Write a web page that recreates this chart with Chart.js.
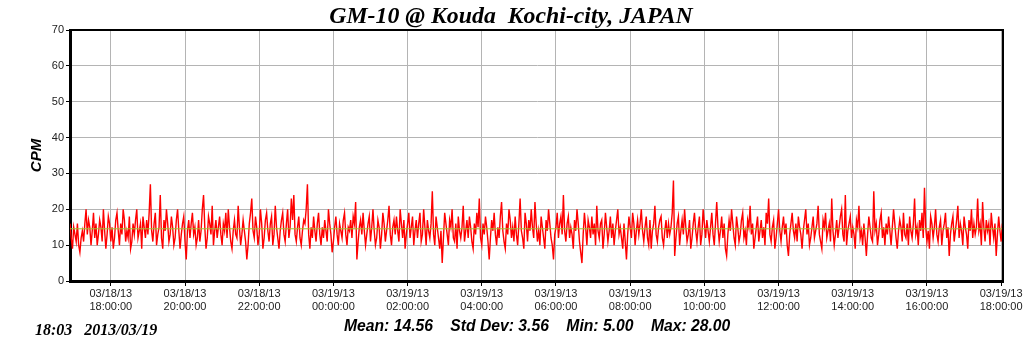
<!DOCTYPE html>
<html>
<head>
<meta charset="utf-8">
<script src="https://cdn.jsdelivr.net/npm/chart.js@4/dist/chart.umd.min.js"></script>
<style>
  html, body { margin: 0; padding: 0; background: #fff; }
  #wrap { position: relative; width: 1024px; height: 351px; }
  #title {
    position: absolute; left: 0; top: 2px; width: 1022px; text-align: center;
    white-space: pre; line-height: 28px;
    font: italic bold 23.8px "Liberation Serif", "Times New Roman", serif; color: #000;
  }
  #footLeft {
    position: absolute; left: 35px; top: 321px; white-space: pre;
    font: italic bold 16px "Liberation Serif", "Times New Roman", serif; color: #000;
  }
  #footStats {
    position: absolute; left: 344px; top: 317px; white-space: pre;
    font: italic bold 15.7px "Liberation Sans", Arial, sans-serif; color: #000;
  }
</style>
</head>
<body>
<div id="wrap">
  <canvas id="chart" width="1024" height="351"></canvas>
  <div id="title"></div>
  <div id="footLeft"></div>
  <div id="footStats"></div>
</div>
<script>
// time axis in minutes from 03/18/13 00:00
var startMinute = 1014;   // 03/18 16:54
var endMinute = 2523;     // 03/19 18:03
var stepMinutes = 2;

var tickMinutes = [1080, 1200, 1320, 1440, 1560, 1680, 1800, 1920, 2040, 2160, 2280, 2400, 2520];
var tickDates = ['03/18/13', '03/18/13', '03/18/13', '03/19/13', '03/19/13', '03/19/13', '03/19/13',
                 '03/19/13', '03/19/13', '03/19/13', '03/19/13', '03/19/13', '03/19/13'];
var tickTimes = ['18:00:00', '20:00:00', '22:00:00', '00:00:00', '02:00:00', '04:00:00', '06:00:00',
                 '08:00:00', '10:00:00', '12:00:00', '14:00:00', '16:00:00', '18:00:00'];

var cpm = [
  16,12,9,15,13,11,16,10,8,12,14,11,16,20,13,17,15,10,14,19,
  12,16,10,13,17,15,11,20,14,9,13,18,16,11,15,9,12,17,19,14,
  10,16,13,20,17,11,14,12,18,9,11,16,13,17,20,12,14,16,9,18,
  15,12,17,13,19,27,14,11,16,19,10,13,15,24,12,9,17,14,20,16,
  11,13,18,15,10,12,17,20,14,9,13,16,18,11,6,14,17,12,16,19,
  13,15,10,12,17,11,14,20,24,15,9,12,18,16,13,21,10,14,17,12,
  15,18,13,10,16,14,19,12,20,15,11,9,14,17,13,12,21,15,10,13,
  17,14,11,6,10,16,19,23,14,12,18,15,10,13,20,16,9,12,17,19,
  14,11,16,18,10,13,21,15,12,9,14,17,19,13,11,16,20,12,15,23,
  17,24,13,11,15,18,12,10,14,17,16,20,27,13,9,15,12,18,14,11,
  16,19,13,10,15,12,17,14,11,20,16,13,8,11,15,18,13,10,16,14,
  12,17,19,13,10,15,14,17,12,18,16,22,6,11,15,17,13,19,14,10,
  13,16,18,11,15,20,14,10,12,17,15,9,13,19,16,11,14,17,21,13,
  10,15,17,13,18,14,11,20,16,12,17,9,13,16,19,12,15,18,10,14,
  17,12,16,19,11,13,20,15,10,17,14,12,16,25,13,10,18,15,12,9,
  14,5,12,19,16,13,10,17,15,20,12,11,16,9,18,14,12,15,21,11,
  14,17,12,18,15,11,9,16,13,19,15,23,12,10,16,13,18,15,11,6,
  12,17,14,19,13,10,15,12,18,22,14,11,9,16,13,20,17,12,15,11,
  18,13,10,16,23,14,12,9,19,16,11,17,14,20,15,12,22,16,11,14,
  10,18,15,12,9,17,14,20,16,12,10,6,13,15,19,12,16,18,13,24,
  14,11,16,18,12,15,13,9,17,14,20,16,11,8,5,13,19,15,10,17,
  15,12,18,13,16,10,21,14,12,16,17,9,13,19,15,11,14,18,12,16,
  10,14,17,20,13,15,12,9,16,11,6,13,18,15,12,19,16,10,14,17,
  13,16,20,14,11,15,18,12,10,17,9,14,16,21,13,11,15,17,18,12,
  10,14,17,12,16,13,15,19,28,7,12,16,18,10,14,17,13,20,15,11,
  13,17,9,12,16,19,14,11,15,18,10,13,20,16,12,17,14,11,15,19,
  13,10,16,22,15,11,14,18,12,16,9,7,13,17,14,20,16,12,10,18,
  15,11,13,17,19,12,14,10,17,15,21,13,16,9,12,15,18,11,14,17,
  12,15,10,19,16,23,13,11,15,17,9,12,16,20,14,11,15,18,13,16,
  10,7,13,16,19,14,12,16,11,18,15,13,9,14,17,20,13,16,10,12,
  15,18,12,14,16,21,13,11,9,17,15,19,12,14,16,11,23,14,10,13,
  17,12,15,18,20,13,11,24,10,14,16,18,12,15,13,9,17,15,21,12,
  14,10,16,12,7,13,18,15,12,11,25,14,16,10,13,17,19,12,15,10,
  16,13,18,14,10,15,20,16,12,9,14,17,15,11,19,13,12,16,10,18,
  14,12,16,23,13,15,10,17,14,19,12,26,15,11,14,9,18,16,12,15,
  20,13,11,15,17,10,14,16,19,12,15,7,13,16,18,11,14,17,21,12,
  16,14,10,18,15,13,9,17,14,20,12,16,13,15,23,14,16,10,22,15,
  11,17,14,16,10,19,15,12,16,7,13,18,14,11,16
];

var meanCpm = 14.56;
var stdDev = 3.56;
var minCpm = 5.00;
var maxCpm = 28.00;

var cpmPoints = cpm.map(function(v, i) {
    return { x: startMinute + i * stepMinutes, y: v };
});
var meanPoints = [{ x: startMinute, y: meanCpm }, { x: endMinute, y: meanCpm }];

document.getElementById('title').textContent = 'GM-10 @ Kouda  Kochi-city, JAPAN';
document.getElementById('footLeft').textContent = '18:03   2013/03/19';
document.getElementById('footStats').textContent =
    'Mean: ' + meanCpm.toFixed(2) + '    Std Dev: ' + stdDev.toFixed(2) +
    '    Min: ' + minCpm.toFixed(2) + '    Max: ' + maxCpm.toFixed(2);

// thin frame on top and right of the plot
var framePlugin = {
    id: 'frame',
    afterDatasetsDraw: function(chart) {
        var a = chart.chartArea, c = chart.ctx;
        c.save();
        c.strokeStyle = '#000';
        c.lineWidth = 2;
        c.beginPath();
        c.moveTo(a.left, a.top);
        c.lineTo(a.right, a.top);
        c.lineTo(a.right, a.bottom);
        c.stroke();
        c.restore();
    }
};

var ctx = document.getElementById('chart').getContext('2d');
var chart = new Chart(ctx, {
    type: 'line',
    data: {
        datasets: [
            {
                label: 'CPM',
                data: cpmPoints,
                borderColor: '#ff0000',
                borderWidth: 1.4,
                pointRadius: 0,
                tension: 0,
                order: 2
            },
            {
                label: 'Mean',
                data: meanPoints,
                borderColor: 'rgb(160, 195, 50)',
                borderWidth: 1,
                pointRadius: 0,
                order: 1
            }
        ]
    },
    options: {
        responsive: false,
        animation: false,
        devicePixelRatio: 1,
        layout: { padding: { left: 0, right: 21, top: 30, bottom: 0 } },
        plugins: {
            legend: { display: false },
            tooltip: { enabled: false },
            title: { display: false }
        },
        scales: {
            x: {
                type: 'linear',
                min: startMinute,
                max: endMinute,
                afterBuildTicks: function(scale) {
                    scale.ticks = tickMinutes.map(function(v) { return { value: v }; });
                },
                afterFit: function(scale) { scale.height = 70; },
                ticks: {
                    autoSkip: false,
                    maxRotation: 0,
                    padding: 1,
                    color: '#222',
                    font: { family: 'Liberation Sans', size: 11 },
                    callback: function(value) {
                        var k = tickMinutes.indexOf(value);
                        return [tickDates[k], tickTimes[k]];
                    }
                },
                grid: { color: '#b4b4b4', tickColor: '#000', tickLength: 5 },
                border: { color: '#000', width: 3 }
            },
            y: {
                min: 0,
                max: 70,
                afterFit: function(scale) { scale.width = 70; },
                ticks: {
                    stepSize: 10,
                    padding: 2,
                    color: '#222',
                    font: { family: 'Liberation Sans', size: 11 }
                },
                grid: { color: '#b4b4b4', tickColor: '#000', tickLength: 4 },
                border: { color: '#000', width: 3 },
                title: {
                    display: true,
                    text: 'CPM',
                    color: '#000',
                    font: { family: 'Liberation Sans', size: 15, weight: 'bold', style: 'italic' },
                    padding: { top: 28, bottom: 0 }
                }
            }
        }
    },
    plugins: [framePlugin]
});
</script>
</body>
</html>
